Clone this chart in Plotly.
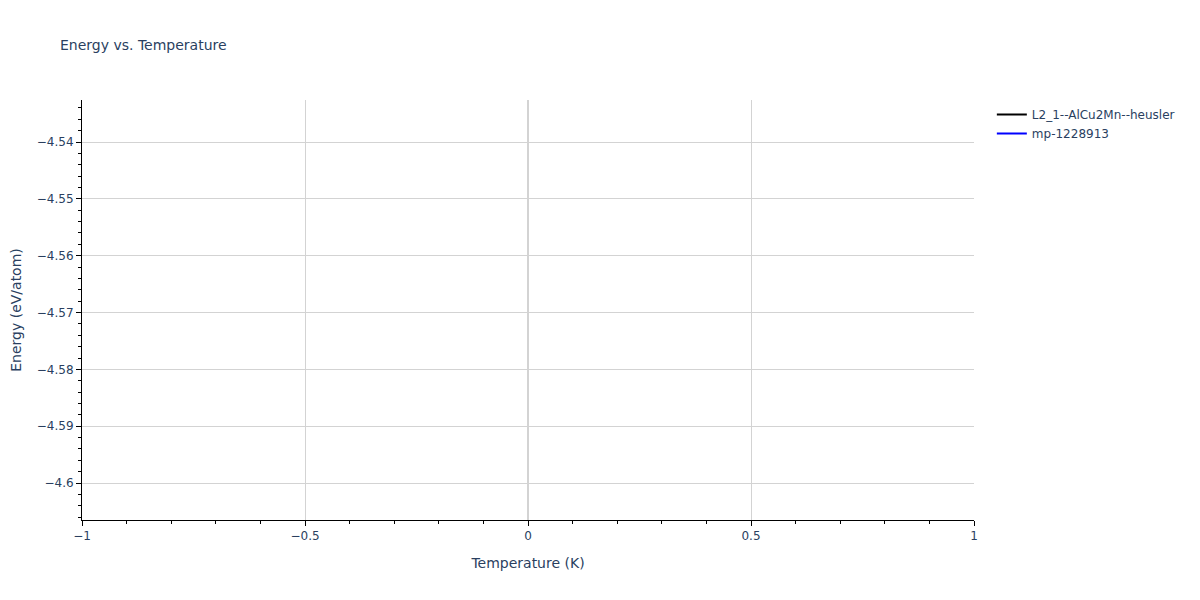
import plotly.graph_objects as go

series_names = ["L2_1--AlCu2Mn--heusler", "mp-1228913"]
series_colors = ["black", "blue"]
temperatures = [[0], [0]]
energies = [[-4.5363], [-4.6028]]

fig = go.Figure()
for name, color, t, e in zip(series_names, series_colors, temperatures, energies):
    fig.add_trace(go.Scatter(x=t, y=e, mode="lines", name=name,
                             line=dict(color=color, width=2)))

axis_common = dict(
    showline=True, linecolor="black", linewidth=1,
    gridcolor="lightgrey", zerolinecolor="lightgrey", zerolinewidth=2,
    ticks="outside", tickcolor="black", ticklen=5,
    mirror=False, automargin=False,
)
fig.update_layout(
    font=dict(family="DejaVu Sans, Verdana, sans-serif"),
    title=dict(text="Energy vs. Temperature", x=52 / 1184, xanchor="left",
               font=dict(size=14),
               yref="container", y=1 - (45 - 8) / 584, yanchor="middle"),
    width=1184, height=584,
    margin=dict(l=74, t=92, b=72, r=207),
    plot_bgcolor="white", paper_bgcolor="white",
    legend=dict(x=1.02, y=1),
    xaxis=dict(title=dict(text="Temperature (K)"), range=[-1, 1],
               minor=dict(ticks="outside", ticklen=3, tickcolor="black", dtick=0.1, showgrid=False),
               **axis_common),
    yaxis=dict(title=dict(text="Energy (eV/atom)", standoff=20), range=[-4.6065, -4.5326],
               minor=dict(ticks="outside", ticklen=3, tickcolor="black", dtick=0.002, showgrid=False),
               **axis_common),
)
fig.write_html("out.html")
